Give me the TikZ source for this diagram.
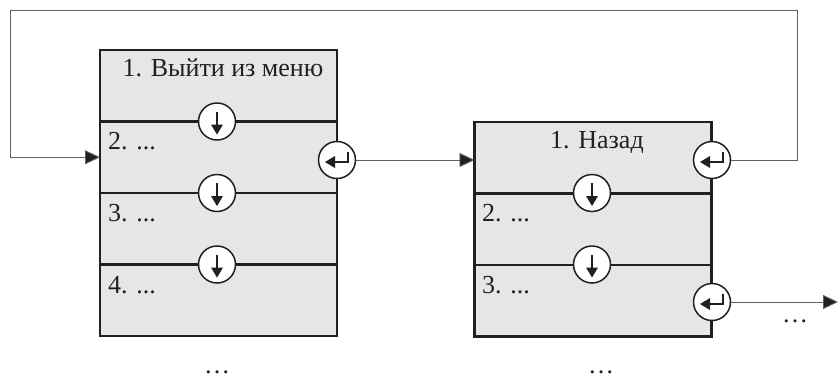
\documentclass[tikz,border=0pt]{standalone}
\usepackage{fontspec}
\setmainfont{Liberation Serif}
\usetikzlibrary{positioning,arrows.meta}

\definecolor{menufill}{RGB}{230,230,232}
\definecolor{menuline}{RGB}{35,31,32}
\definecolor{linkgray}{RGB}{95,95,95}

\tikzset{
  menurow/.style={draw=menuline, line width=2.6pt, fill=menufill, minimum width=237pt, minimum height=71.5pt, inner sep=0pt, outer sep=0pt},
  link/.style={draw=linkgray, line width=0.9pt},
  tip/.style={-{Triangle[length=15pt,width=14pt,fill=menuline]}},
  itemtext/.style={font=\fontsize{26}{30}\selectfont, text=menuline, inner sep=0pt},
  btn/.style={circle, draw=menuline, line width=1.5pt, fill=white, minimum size=37pt, inner sep=0pt},
  downbtn/.style={btn, path picture={
      \draw[menuline, line width=1.5pt, shift={(path picture bounding box.center)}, x=1pt, y=1pt] (0,10) -- (0,-4);
      \fill[menuline, shift={(path picture bounding box.center)}, x=1pt, y=1pt] (0,-13) -- (-6,-3) -- (6,-3) -- cycle;}},
  retbtn/.style={btn, path picture={
      \draw[menuline, line width=1.5pt, shift={(path picture bounding box.center)}, x=1pt, y=1pt] (-3,-2) -- (11,-2) -- (11,8);
      \fill[menuline, shift={(path picture bounding box.center)}, x=1pt, y=1pt] (-12,-2) -- (-2,4) -- (-2,-8) -- cycle;}}
}

\begin{document}
\begin{tikzpicture}[x=1pt, y=-1pt]
  \useasboundingbox (0,0) rectangle (838,381);

  % left menu
  \node[menurow] (L1) at (218.5,85.75) {};
  \node[menurow, below=0pt of L1] (L2) {};
  \node[menurow, below=0pt of L2] (L3) {};
  \node[menurow, below=0pt of L3] (L4) {};

  % right menu
  \node[menurow] (R1) at (593,157.75) {};
  \node[menurow, below=0pt of R1] (R2) {};
  \node[menurow, below=0pt of R2] (R3) {};

  % item texts
  \node[itemtext, anchor=base] (tL1) at (223,76) {1. Выйти из меню};
  \node[itemtext, anchor=base west] (tL2) at (108,149) {2. ...};
  \node[itemtext, anchor=base west] (tL3) at (108,221) {3. ...};
  \node[itemtext, anchor=base west] (tL4) at (108,293) {4. ...};
  \node[itemtext, anchor=base] (tR1) at (597,148) {1. Назад};
  \node[itemtext, anchor=base west] (tR2) at (482,221) {2. ...};
  \node[itemtext, anchor=base west] (tR3) at (482,293) {3. ...};

  % helper points
  \coordinate (turnR) at (797,10);
  \coordinate (turnL) at (10,10);
  \coordinate (exitR) at (838,302);

  % buttons
  \node[downbtn] (dL1) at (217,121.5) {};
  \node[downbtn] (dL2) at (217,193) {};
  \node[downbtn] (dL3) at (217,264.5) {};
  \node[retbtn] (retL2) at (337,160) {};
  \node[downbtn] (dR1) at (592,193) {};
  \node[downbtn] (dR2) at (592,264.5) {};
  \node[retbtn] (retR1) at (712,160) {};
  \node[retbtn] (retR3) at (712,302) {};

  % connectors
  \draw[link, tip] (retL2) -- (retL2 -| R1.west);
  \draw[link, tip] (retR1) -- (retR1 -| turnR) -- (turnR) -- (turnL) -- (turnL |- L2) -- (L2.west);
  \draw[link, tip] (retR3) -- (exitR);

  % continuation dots
  \node[itemtext] (moreL) at (217,372) {\ldots};
  \node[itemtext] (moreR) at (601,372) {\ldots};
  \node[itemtext] (moreX) at (795,321) {\ldots};
\end{tikzpicture}
\end{document}
